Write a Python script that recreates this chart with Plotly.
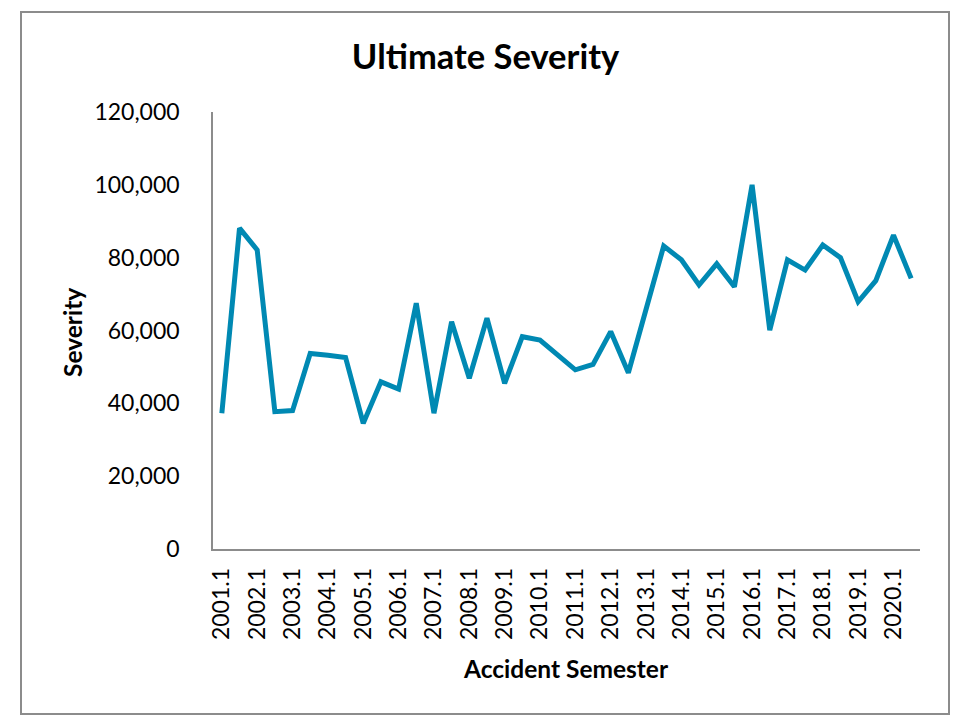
import plotly.graph_objects as go

semesters = [f"{y}.{s}" for y in range(2001, 2021) for s in (1, 2)]
severity = [
    37300, 88100, 82100, 37700, 38000, 53700, 53200, 52600, 34500, 45900,
    43900, 67500, 37300, 62400, 46900, 63400, 45500, 58300, 57400, 53300,
    49200, 50700, 59700, 48400, 65500, 83200, 79400, 72500, 78300, 72000,
    100000, 60100, 79400, 76600, 83500, 80000, 67900, 73700, 86200, 74300,
]
tick_labels = [s for s in semesters if s.endswith(".1")]
y_ticks = [0, 20000, 40000, 60000, 80000, 100000, 120000]

FONT = "Lato"
OFF = 8  # page body margin
W, H = 961 - OFF, 725 - OFF
L, T, R, B = 213 - OFF, 112 - OFF, 41, 176
PW, PH = W - L - R, H - T - B  # 707, 437


def px(x):
    return (x - 213) / PW


def py(y):
    return (549 - y) / PH


fig = go.Figure()
fig.add_trace(go.Scatter(
    x=semesters, y=severity, mode="lines",
    line=dict(color="#0089B3", width=5),
    hoverinfo="x+y",
))

fig.update_layout(
    width=W, height=H,
    paper_bgcolor="white", plot_bgcolor="white",
    margin=dict(l=L, r=R, t=T, b=B, pad=0),
    showlegend=False,
    font=dict(family=FONT, size=23, color="#000000"),
    title=dict(text="<b>Ultimate Severity</b>", x=(485.5 - OFF) / W, xref="container",
               xanchor="center", y=1 - (57 - OFF) / H, yref="container", yanchor="middle",
               font=dict(family=FONT, size=34.5, color="#000000")),
    xaxis=dict(
        type="category", range=[-0.5, len(semesters) - 0.5],
        tickmode="array", tickvals=tick_labels, ticktext=tick_labels,
        tickangle=-90, showgrid=False, zeroline=False,
        showline=True, linecolor="#8c8c8c", linewidth=1.5,
        ticks="", ticklabelstandoff=8,
        tickfont=dict(family=FONT, size=23, color="#000000"),
    ),
    yaxis=dict(
        range=[0, 120000], tickmode="array", tickvals=y_ticks,
        ticktext=[f"{v:,}" for v in y_ticks],
        showgrid=False, zeroline=False,
        showline=True, linecolor="#8c8c8c", linewidth=1.5,
        ticks="", ticklabelstandoff=27,
        tickfont=dict(family=FONT, size=23, color="#000000"),
    ),
    annotations=[
        dict(text="<b>Accident Semester</b>", xref="paper", yref="paper",
             x=px(566), y=py(668), xanchor="center", yanchor="middle",
             showarrow=False, font=dict(family=FONT, size=24.5, color="#000000")),
        dict(text="<b>Severity</b>", xref="paper", yref="paper",
             x=px(72), y=py(333), xanchor="center", yanchor="middle",
             textangle=-90, showarrow=False, font=dict(family=FONT, size=24.5, color="#000000")),
    ],
    shapes=[
        dict(type="rect", xref="paper", yref="paper",
             x0=px(21), x1=px(949), y0=py(714), y1=py(12),
             line=dict(color="#8c8c8c", width=2), fillcolor="rgba(0,0,0,0)", layer="below"),
    ],
)

fig.write_html("out.html")
